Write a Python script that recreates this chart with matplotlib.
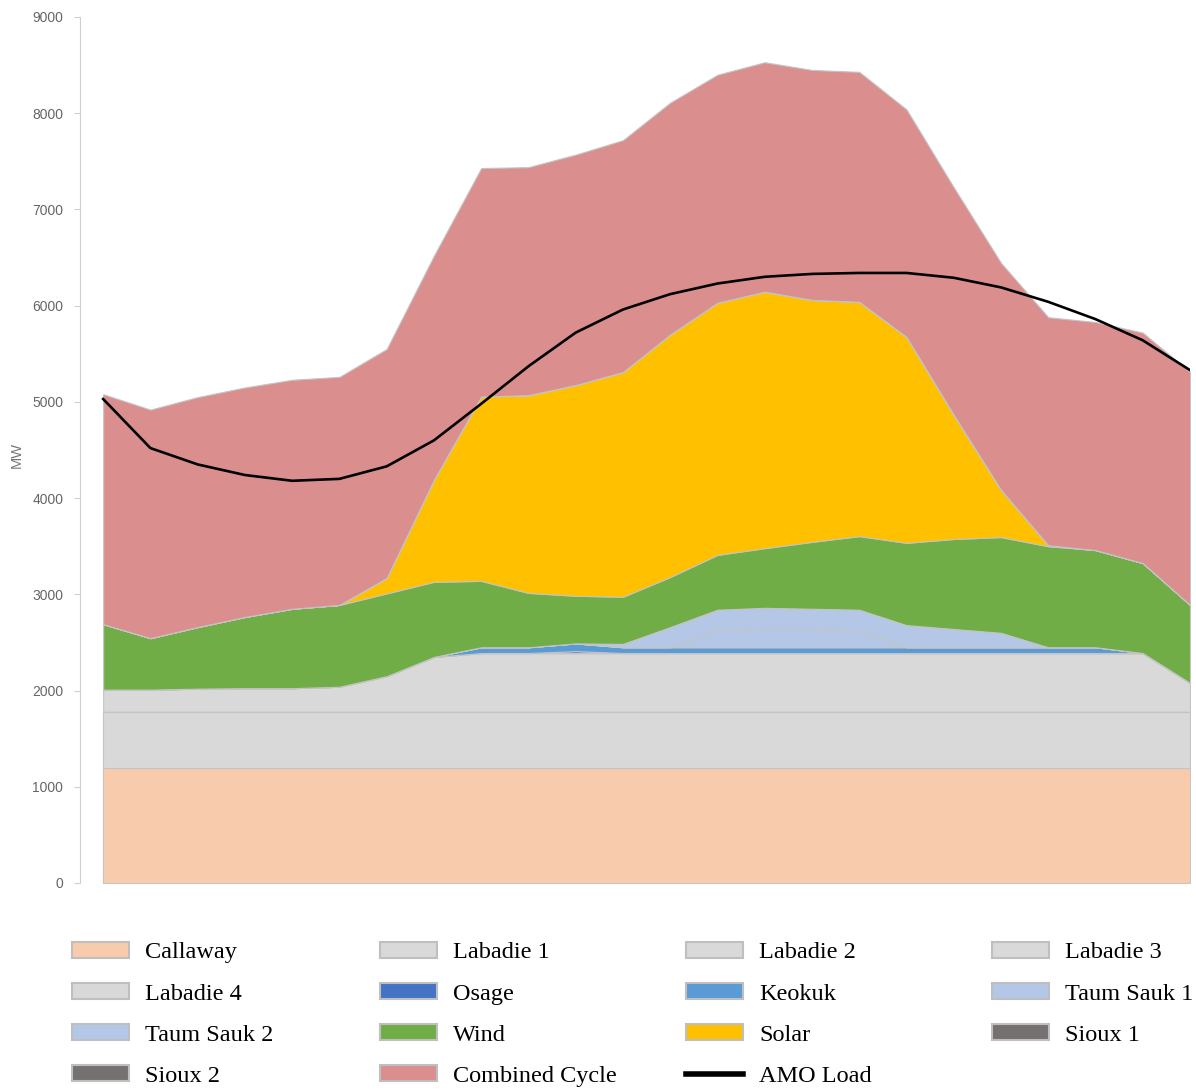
import matplotlib.pyplot as plt
from matplotlib.patches import Patch
from matplotlib.lines import Line2D

# heures de la journee (24 points)
hours = list(range(24))

# production par unite (MW)
callaway = [1200] * 24
labadie1 = [580] * 24
labadie2 = [230, 230, 240, 245, 245, 260, 370, 570, 610, 610, 610, 610,
            610, 610, 610, 610, 610, 610, 610, 610, 610, 610, 610, 300]
labadie3 = [0] * 24
labadie4 = [0] * 24
osage = [0, 0, 0, 0, 0, 0, 0, 0, 0, 0, 20, 0,
         0, 0, 0, 0, 0, 0, 0, 0, 0, 0, 0, 0]
keokuk = [0, 0, 0, 0, 0, 0, 0, 0, 60, 60, 80, 60,
          60, 60, 60, 60, 60, 60, 60, 60, 60, 60, 0, 0]
taum_sauk1 = [0, 0, 0, 0, 0, 0, 0, 0, 0, 0, 0, 0,
              0, 180, 190, 190, 180, 0, 0, 0, 0, 0, 0, 0]
taum_sauk2 = [0, 0, 0, 0, 0, 0, 0, 0, 0, 0, 0, 35,
              210, 210, 220, 210, 210, 230, 190, 150, 0, 0, 0, 0]
wind = [680, 535, 640, 740, 825, 850, 860, 780, 690, 565, 495, 490,
        520, 570, 620, 695, 765, 855, 935, 995, 1050, 1010, 935, 810]
solar = [0, 0, 0, 0, 0, 0, 160, 1060, 1915, 2055, 2190, 2335,
         2520, 2620, 2665, 2515, 2435, 2140, 1290, 490, 10, 0, 0, 0]
sioux1 = [0] * 24
sioux2 = [0] * 24
combined_cycle = [2390, 2375, 2390, 2385, 2380, 2370, 2380, 2330, 2375, 2370, 2395, 2410,
                  2410, 2370, 2385, 2390, 2390, 2365, 2365, 2360, 2370, 2370, 2395, 2420]

amo_load = [5030, 4520, 4350, 4240, 4180, 4200, 4330, 4600, 4980, 5370, 5720, 5960,
            6120, 6230, 6300, 6330, 6340, 6340, 6290, 6190, 6040, 5860, 5640, 5330]

noms = ["Callaway", "Labadie 1", "Labadie 2", "Labadie 3", "Labadie 4", "Osage",
        "Keokuk", "Taum Sauk 1", "Taum Sauk 2", "Wind", "Solar", "Sioux 1",
        "Sioux 2", "Combined Cycle"]
couleurs = ["#f8cbad", "#d9d9d9", "#d9d9d9", "#d9d9d9", "#d9d9d9", "#4472c4",
            "#5b9bd5", "#b4c7e7", "#b4c7e7", "#70ad47", "#ffc000", "#767171",
            "#767171", "#da8f8e"]
series = [callaway, labadie1, labadie2, labadie3, labadie4, osage, keokuk,
          taum_sauk1, taum_sauk2, wind, solar, sioux1, sioux2, combined_cycle]

fig = plt.figure(figsize=(11.96, 10.9), dpi=100)
ax = fig.add_axes([80 / 1196, 1 - 883 / 1090, 1110 / 1196, 866 / 1090])

ax.stackplot(hours, *series, colors=couleurs, edgecolor="#c4c4c4", linewidth=0.8)
ax.plot(hours, amo_load, color="black", linewidth=1.9)

ax.set_xlim(-0.49, 23)
ax.set_ylim(0, 9000)
ax.set_yticks(range(0, 9001, 1000))
ax.set_xticks([])
for s in ["top", "right", "bottom"]:
    ax.spines[s].set_visible(False)
ax.spines["left"].set_color("#d0d0d0")
ax.tick_params(axis="y", colors="#d0d0d0", length=4, pad=8, labelcolor="#666666",
               labelsize=10)
for lab in ax.get_yticklabels():
    lab.set_family("Liberation Sans")
ax.set_ylabel("MW", color="#777777", fontsize=10.5, family="Liberation Sans")
ax.yaxis.set_label_coords(-0.0505, 0.494)

# legende : 4 colonnes, ordre ligne par ligne
handles = [Patch(facecolor=c, edgecolor="#bfbfbf", linewidth=1.5) for c in couleurs]
handles.append(Line2D([0], [0], color="black", linewidth=4))
labels = noms + ["AMO Load"]
col_x = [72, 380, 686, 992]
for c in range(4):
    leg = fig.legend(handles[c::4], labels[c::4], loc="upper left",
                     bbox_to_anchor=(col_x[c] / 1196, 1 - 942 / 1090),
                     frameon=False, borderpad=0, borderaxespad=0,
                     handlelength=2.35, handleheight=0.62, handletextpad=0.66,
                     labelspacing=0.81,
                     prop={"family": "Liberation Serif", "size": 17.5})

fig.savefig("out.png", dpi=100)
